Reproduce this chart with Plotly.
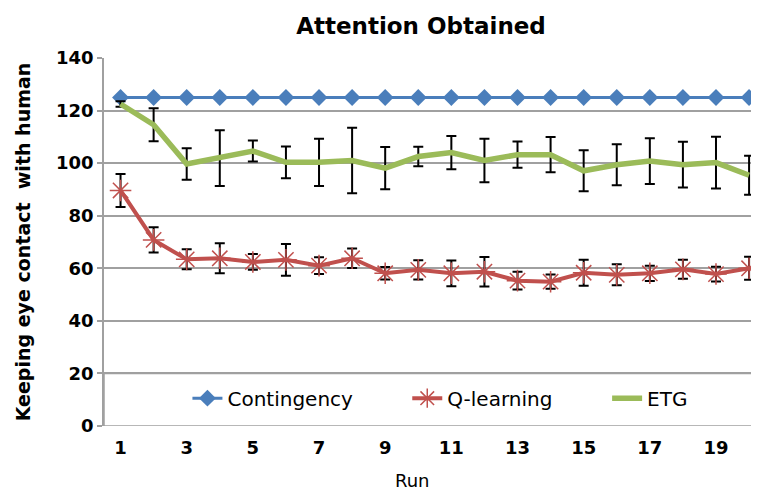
import plotly.graph_objects as go

runs = list(range(1, 21))

contingency = [125] * 20

q_learning = [89.6, 70.8, 63.4, 63.8, 62.4, 63.2, 61.0, 63.8, 58.1, 59.4,
              58.1, 58.7, 55.3, 54.9, 58.3, 57.5, 58.1, 59.6, 57.8, 60.0]
q_err = [6.3, 4.8, 3.8, 5.7, 3.0, 6.0, 3.2, 3.7, 2.4, 3.7,
         4.9, 5.6, 3.4, 2.7, 4.9, 4.0, 2.9, 3.6, 2.8, 4.4]

etg = [122.5, 114.6, 99.7, 101.9, 104.6, 100.3, 100.3, 101.0, 98.1, 102.5,
       104.0, 101.0, 103.2, 103.2, 97.1, 99.4, 100.8, 99.4, 100.2, 95.4]
etg_err = [1.0, 6.3, 6.0, 10.6, 4.0, 6.0, 9.0, 12.5, 8.0, 3.7,
           6.3, 8.3, 5.0, 6.7, 7.8, 7.8, 8.7, 8.7, 9.8, 7.4]

x_ticks = [1, 3, 5, 7, 9, 11, 13, 15, 17, 19]
y_ticks = [0, 20, 40, 60, 80, 100, 120, 140]

FONT = "DejaVu Sans"
GRID = "#a0a0a0"

# The page body has an 8px margin, so the figure is 8px smaller than the window
W, H = 751, 485
L, T, B = 95.5, 50.3, 67.2
PW = W - L
PH = H - T - B

fig = go.Figure()

fig.add_trace(go.Scatter(
    x=runs, y=contingency, name="Contingency", mode="lines+markers",
    line=dict(color="#4a7ebb", width=3),
    marker=dict(symbol="diamond", size=13, color="#4a7ebb"),
    legend="legend",
))
fig.add_trace(go.Scatter(
    x=runs, y=q_learning, name="Q-learning", mode="lines+markers",
    line=dict(color="#c0504d", width=4),
    marker=dict(symbol="asterisk-open", size=18, color="#c0504d",
                line=dict(color="#de6f6c", width=1.5)),
    error_y=dict(type="data", array=q_err, visible=True, color="black",
                 thickness=2, width=5),
    legend="legend2",
))
fig.add_trace(go.Scatter(
    x=runs, y=etg, name="ETG", mode="lines",
    line=dict(color="#9bbb59", width=5.5),
    error_y=dict(type="data", array=etg_err, visible=True, color="black",
                 thickness=2, width=5),
    legend="legend3",
))

# legend box spanning the bottom band of the plot area
fig.add_shape(type="rect", xref="paper", yref="y", x0=0, x1=1.02, y0=0, y1=20,
              line=dict(color=GRID, width=1.5), fillcolor="white", layer="below")


def leg(page_text_x):
    origin = page_text_x - 8 - 40
    return dict(orientation="h", x=(origin - L) / PW, xanchor="left",
                y=(H - B - 390) / PH, yanchor="middle",
                bgcolor="rgba(0,0,0,0)", borderwidth=0,
                font=dict(size=20, family=FONT))


fig.update_layout(
    width=W, height=H,
    margin=dict(l=L, r=0, t=T, b=B, pad=0),
    paper_bgcolor="white", plot_bgcolor="white",
    font=dict(family=FONT, color="black"),
    title=dict(text="<b>Attention Obtained</b>", font=dict(size=23, family=FONT),
               x=413 / W, xref="container", xanchor="center",
               y=1 - 18 / H, yref="container", yanchor="middle"),
    showlegend=True,
    legend=leg(227),
    legend2=leg(447),
    legend3=leg(647),
    xaxis=dict(range=[0.5, 20.3], tickvals=x_ticks, ticktext=[str(v) for v in x_ticks],
               showgrid=False, zeroline=False, showline=False,
               ticks="outside", ticklen=5, tickcolor="rgba(0,0,0,0)",
               tickfont=dict(size=18, family=FONT, weight="bold")),
    yaxis=dict(range=[0, 140], tickvals=y_ticks, showgrid=True, gridcolor=GRID, gridwidth=1.5,
               zeroline=False, showline=True, linecolor=GRID, linewidth=1.5,
               ticks="outside", ticklen=5, tickcolor=GRID, tickwidth=1.5,
               tickfont=dict(size=18, family=FONT, weight="bold"),
               title=dict(text="<b>Keeping eye contact  with human</b>",
                          font=dict(size=19, family=FONT), standoff=20)),
    annotations=[dict(text="Run", xref="paper", yref="paper",
                      x=(412 - 8 - L) / PW, y=-(480 - 8 - (H - B)) / PH,
                      xanchor="center", yanchor="middle", showarrow=False,
                      borderpad=0, font=dict(size=18, family=FONT))],
)

fig.write_html("out.html")
